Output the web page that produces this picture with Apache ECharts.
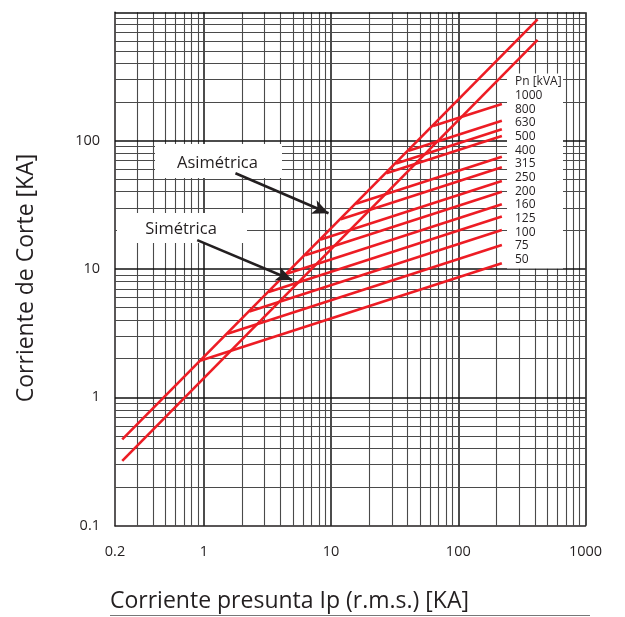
<!DOCTYPE html>
<html><head><meta charset="utf-8">
<script src="https://cdn.jsdelivr.net/npm/echarts@6/dist/echarts.min.js"></script>
<style>html,body{margin:0;padding:0;background:#fff}#c{width:625px;height:617px}</style>
</head><body><div id="c"></div>
<script>
// ---- data ----
const kvaLabels  = ['1000','800','630','500','400','315','250','200','160','125','100','75','50'];
const fuseStartX = [63.3, 40.7, 32.4, 27.2, 15.7, 11.9, 8.3, 6.26, 4.48, 3.23, 2.28, 1.53, 0.946];
const fuseStartY = [130, 83.5, 66.5, 55.7, 32.3, 24.4, 17.0, 12.8, 9.19, 6.63, 4.67, 3.13, 1.94];
const fuseEndX   = [220, 220, 220, 220, 220, 220, 220, 220, 220, 220, 220, 220, 220];
const fuseEndY   = [193, 143, 122.6, 108.7, 75, 62, 48.5, 40, 31.9, 25.6, 20.1, 15.4, 11.1];
const asymX = [0.228, 420];
const asymY = [0.47, 880];
const symX  = [0.228, 420];
const symY  = [0.32, 610];
const asymArrowX = [1.77, 9.54];
const asymArrowY = [55.7, 27.2];
const symArrowX  = [0.886, 4.93];
const symArrowY  = [16.8, 8.21];
const xTickLabels = [0.2, 1, 10, 100, 1000];
const yTickLabels = [0.1, 1, 10, 100];
const xMin = 0.2, xMax = 1000, yMin = 0.1, yMax = 1000;

// ---- chart ----
const RED = '#ed1c24';
const INK = '#231f20';
const FONT = '"Open Sans", "Noto Sans", sans-serif';

function logGridValues(lo, hi) {
  const out = [];
  for (let e = -1; e <= 3; e++) {
    for (let m = 1; m <= 9; m++) {
      const v = m * Math.pow(10, e);
      if (v > lo * 1.0001 && v <= hi * 1.0001) out.push(v);
    }
  }
  return out;
}
function isDecade(v) { return Math.abs(Math.log10(v) - Math.round(Math.log10(v))) < 1e-6; }
function labelFor(list) {
  return v => {
    const m = list.find(t => Math.abs(Math.log10(t) - Math.log10(v)) < 0.01);
    return m !== undefined ? String(m) : '';
  };
}

const gridLines = [];
logGridValues(xMin, xMax).forEach(v => gridLines.push({
  xAxis: v, lineStyle: { color: isDecade(v) ? '#111' : '#4a4a4a', width: isDecade(v) ? 1.5 : 1.1, type: 'solid' }
}));
logGridValues(yMin, yMax).forEach(v => gridLines.push({
  yAxis: v, lineStyle: { color: isDecade(v) ? '#111' : '#4a4a4a', width: isDecade(v) ? 1.5 : 1.1, type: 'solid' }
}));

const series = [];
series.push({
  type: 'line', data: [], z: 1, silent: true,
  markLine: { silent: true, z: 1, symbol: 'none', animation: false, label: { show: false },
              emphasis: { disabled: true }, data: gridLines }
});
function redLine(name, xs, ys) {
  return { name, type: 'line', showSymbol: false, symbol: 'none', z: 15, silent: true,
           lineStyle: { color: RED, width: 2.6 },
           data: xs.map((x, i) => [x, ys[i]]) };
}
series.push(redLine('Asimétrica', asymX, asymY));
series.push(redLine('Simétrica', symX, symY));
kvaLabels.forEach((k, i) => series.push(
  redLine(k + ' kVA', [fuseStartX[i], fuseEndX[i]], [fuseStartY[i], fuseEndY[i]])));
series.push({
  type: 'line', data: [], z: 20, silent: true,
  markLine: { silent: true, z: 20, symbol: ['none', 'arrow'], symbolSize: [11, 16], animation: false,
              label: { show: false }, emphasis: { disabled: true },
              lineStyle: { color: INK, width: 2.6, type: 'solid' },
              data: [
                [{ coord: [asymArrowX[0], asymArrowY[0]] }, { coord: [asymArrowX[1], asymArrowY[1]] }],
                [{ coord: [symArrowX[0], symArrowY[0]] }, { coord: [symArrowX[1], symArrowY[1]] }]
              ] }
});

const chart = echarts.init(document.getElementById('c'), null, { renderer: 'canvas' });
chart.setOption({
  animation: false,
  backgroundColor: '#fff',
  grid: { left: 115, right: 39.5, top: 12.3, bottom: 91.3, containLabel: false },
  xAxis: {
    type: 'log', logBase: 10, min: xMin, max: xMax,
    axisLine: { show: true, lineStyle: { color: INK, width: 1.5 } },
    axisTick: { show: false }, splitLine: { show: false },
    axisLabel: { formatter: labelFor(xTickLabels), color: INK, fontSize: 14.5, fontFamily: FONT, margin: 19 }
  },
  yAxis: {
    type: 'log', logBase: 10, min: yMin, max: yMax,
    name: 'Corriente de Corte [KA]', nameLocation: 'middle', nameGap: 77,
    nameTextStyle: { fontSize: 23, fontFamily: FONT, color: INK, padding: [0, 18, 0, 0] },
    axisLine: { show: true, lineStyle: { color: INK, width: 1.5 } },
    axisTick: { show: false }, splitLine: { show: false },
    axisLabel: { formatter: labelFor(yTickLabels), color: INK, fontSize: 14.5, fontFamily: FONT, margin: 15 }
  },
  series,
  graphic: [
    { type: 'rect', z: 10, silent: true, shape: { x: 507, y: 73.5, width: 56, height: 195 }, style: { fill: '#fff' } },
    { type: 'text', z: 11, silent: true, x: 515, y: 75.2,
      style: { text: ['Pn [kVA]'].concat(kvaLabels).join('\n'), font: '12px ' + FONT, lineHeight: 13.65, fill: INK } },
    { type: 'rect', z: 10, silent: true, shape: { x: 155, y: 144, width: 127, height: 34 }, style: { fill: '#fff' } },
    { type: 'text', z: 11, silent: true, x: 217.5, y: 163,
      style: { text: 'Asimétrica', font: '16.5px ' + FONT, fill: INK, align: 'center', verticalAlign: 'middle' } },
    { type: 'rect', z: 10, silent: true, shape: { x: 117, y: 213, width: 130, height: 30 }, style: { fill: '#fff' } },
    { type: 'text', z: 11, silent: true, x: 181, y: 229,
      style: { text: 'Simétrica', font: '16.5px ' + FONT, fill: INK, align: 'center', verticalAlign: 'middle' } },
    { type: 'text', z: 11, silent: true, x: 110, y: 601,
      style: { text: 'Corriente presunta Ip (r.m.s.) [KA]', font: '23px ' + FONT, fill: INK, align: 'left', verticalAlign: 'middle' } },
    { type: 'line', z: 11, silent: true, shape: { x1: 110, y1: 615.5, x2: 590, y2: 615.5 }, style: { stroke: '#777', lineWidth: 1 } }
  ]
});
</script>
</body></html>
